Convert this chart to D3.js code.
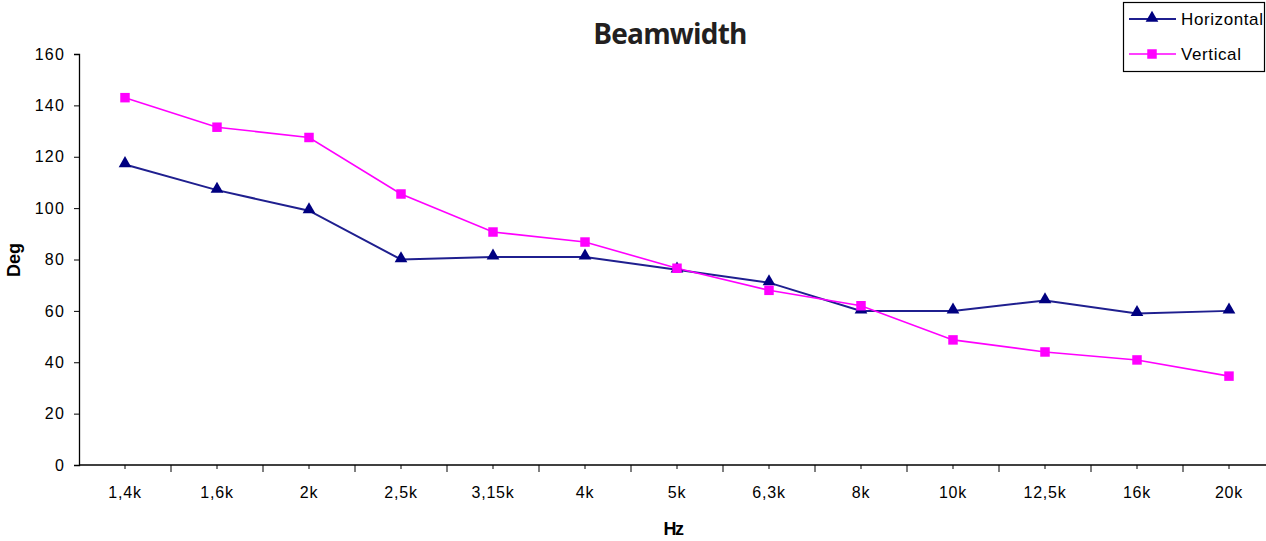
<!DOCTYPE html>
<html><head><meta charset="utf-8">
<script src="https://cdn.jsdelivr.net/npm/d3@7"></script>
<style>body{margin:0;background:#fff}svg{display:block}</style>
</head><body>
<svg id="c" width="1266" height="541"></svg>
<script>
const categories = ["1,4k","1,6k","2k","2,5k","3,15k","4k","5k","6,3k","8k","10k","12,5k","16k","20k"];
const horizontal = [117,107,99,80,81,81,76,71,60,60,64,59,60];
const vertical = [143,131.5,127.5,105.5,90.7,86.8,76.6,68,62,48.7,44,40.9,34.6];
const yTicks = [0,20,40,60,80,100,120,140,160];
const seriesNames = ["Horizontal","Vertical"];

(function(){
const svg = d3.select("#c");
const pLeft = 79, pRight = 1275, pTop = 54, pBottom = 465;
const x = d3.scaleBand().domain(categories).range([pLeft, pRight]);
const y = d3.scaleLinear().domain([0,160]).range([pBottom, pTop]);
const font = "'Liberation Sans', Arial, sans-serif";

const ya = svg.append("g").attr("transform",`translate(${pLeft},0)`)
  .call(d3.axisLeft(y).tickValues(yTicks).tickSize(5).tickPadding(8));
ya.select(".domain").attr("stroke","#000").attr("stroke-width",1.3);
ya.selectAll(".tick line").attr("stroke","#000");
ya.selectAll(".tick text").attr("font-family",font).attr("font-size",16).attr("letter-spacing",1.2)
  .attr("fill","#000").attr("dx",-1);

const xa = svg.append("g").attr("transform",`translate(0,${pBottom})`)
  .call(d3.axisBottom(x).tickSize(4).tickPadding(18));
xa.select(".domain").attr("d",`M${pLeft},0H${pRight}`).attr("stroke","#000").attr("stroke-width",1.3);
xa.selectAll(".tick line").attr("stroke","#000");
xa.selectAll(".tick text").attr("font-family",font).attr("font-size",16).attr("letter-spacing",0.8).attr("fill","#000");
xa.selectAll(".btick").data(categories.slice(1)).join("line")
  .attr("x1",d=>x(d)).attr("x2",d=>x(d)).attr("y1",0).attr("y2",7).attr("stroke","#000");

const cx = d => x(d) + x.bandwidth()/2;

const line = d3.line().x((d,i)=>cx(categories[i])).y(d=>y(d));
const tri = d3.symbol().type(d3.symbolTriangle).size(70);
const sq = d3.symbol().type(d3.symbolSquare).size(90);

svg.append("path").datum(horizontal).attr("d",line).attr("fill","none").attr("stroke","#1f1f8f").attr("stroke-width",2);
svg.append("path").datum(vertical).attr("d",line).attr("fill","none").attr("stroke","#ff00ff").attr("stroke-width",1.6);
svg.selectAll(".mh").data(horizontal).join("path").attr("d",tri)
  .attr("transform",(d,i)=>`translate(${cx(categories[i])},${y(d)-1})`).attr("fill","#000080");
svg.selectAll(".mv").data(vertical).join("path").attr("d",sq)
  .attr("transform",(d,i)=>`translate(${cx(categories[i])},${y(d)})`).attr("fill","#ff00ff");

svg.append("text").attr("x",670).attr("y",44).attr("text-anchor","middle")
  .attr("font-family","'Open Sans', sans-serif").attr("font-weight",700).attr("font-size",28)
  .attr("letter-spacing",-0.8).attr("fill","#231f20").text("Beamwidth");

svg.append("text").attr("transform","translate(20,260) rotate(-90)").attr("text-anchor","middle")
  .attr("font-family",font).attr("font-weight",700).attr("font-size",18).text("Deg");
svg.append("text").attr("x",673).attr("y",535).attr("text-anchor","middle")
  .attr("font-family",font).attr("font-weight",700).attr("font-size",18).attr("letter-spacing",-1.5).text("Hz");

const lg = svg.append("g");
lg.append("rect").attr("x",1123.5).attr("y",2.5).attr("width",141).attr("height",69).attr("fill","#fff").attr("stroke","#000").attr("stroke-width",1.2);
const lcol = ["#1f1f8f","#ff00ff"], lsym=[tri,sq], lfill=["#000080","#ff00ff"];
seriesNames.forEach((n,i)=>{
  const ly = 19 + i*35;
  lg.append("line").attr("x1",1129).attr("x2",1176).attr("y1",ly).attr("y2",ly).attr("stroke",lcol[i]).attr("stroke-width",i?1.6:2);
  lg.append("path").attr("d",lsym[i]).attr("transform",`translate(1152,${ly-(i?0:1)})`).attr("fill",lfill[i]);
  lg.append("text").attr("x",1181).attr("y",ly+6).attr("font-family",font).attr("font-size",17).attr("letter-spacing",0.6).attr("fill","#000").text(n);
});
})();
</script>
</body></html>
